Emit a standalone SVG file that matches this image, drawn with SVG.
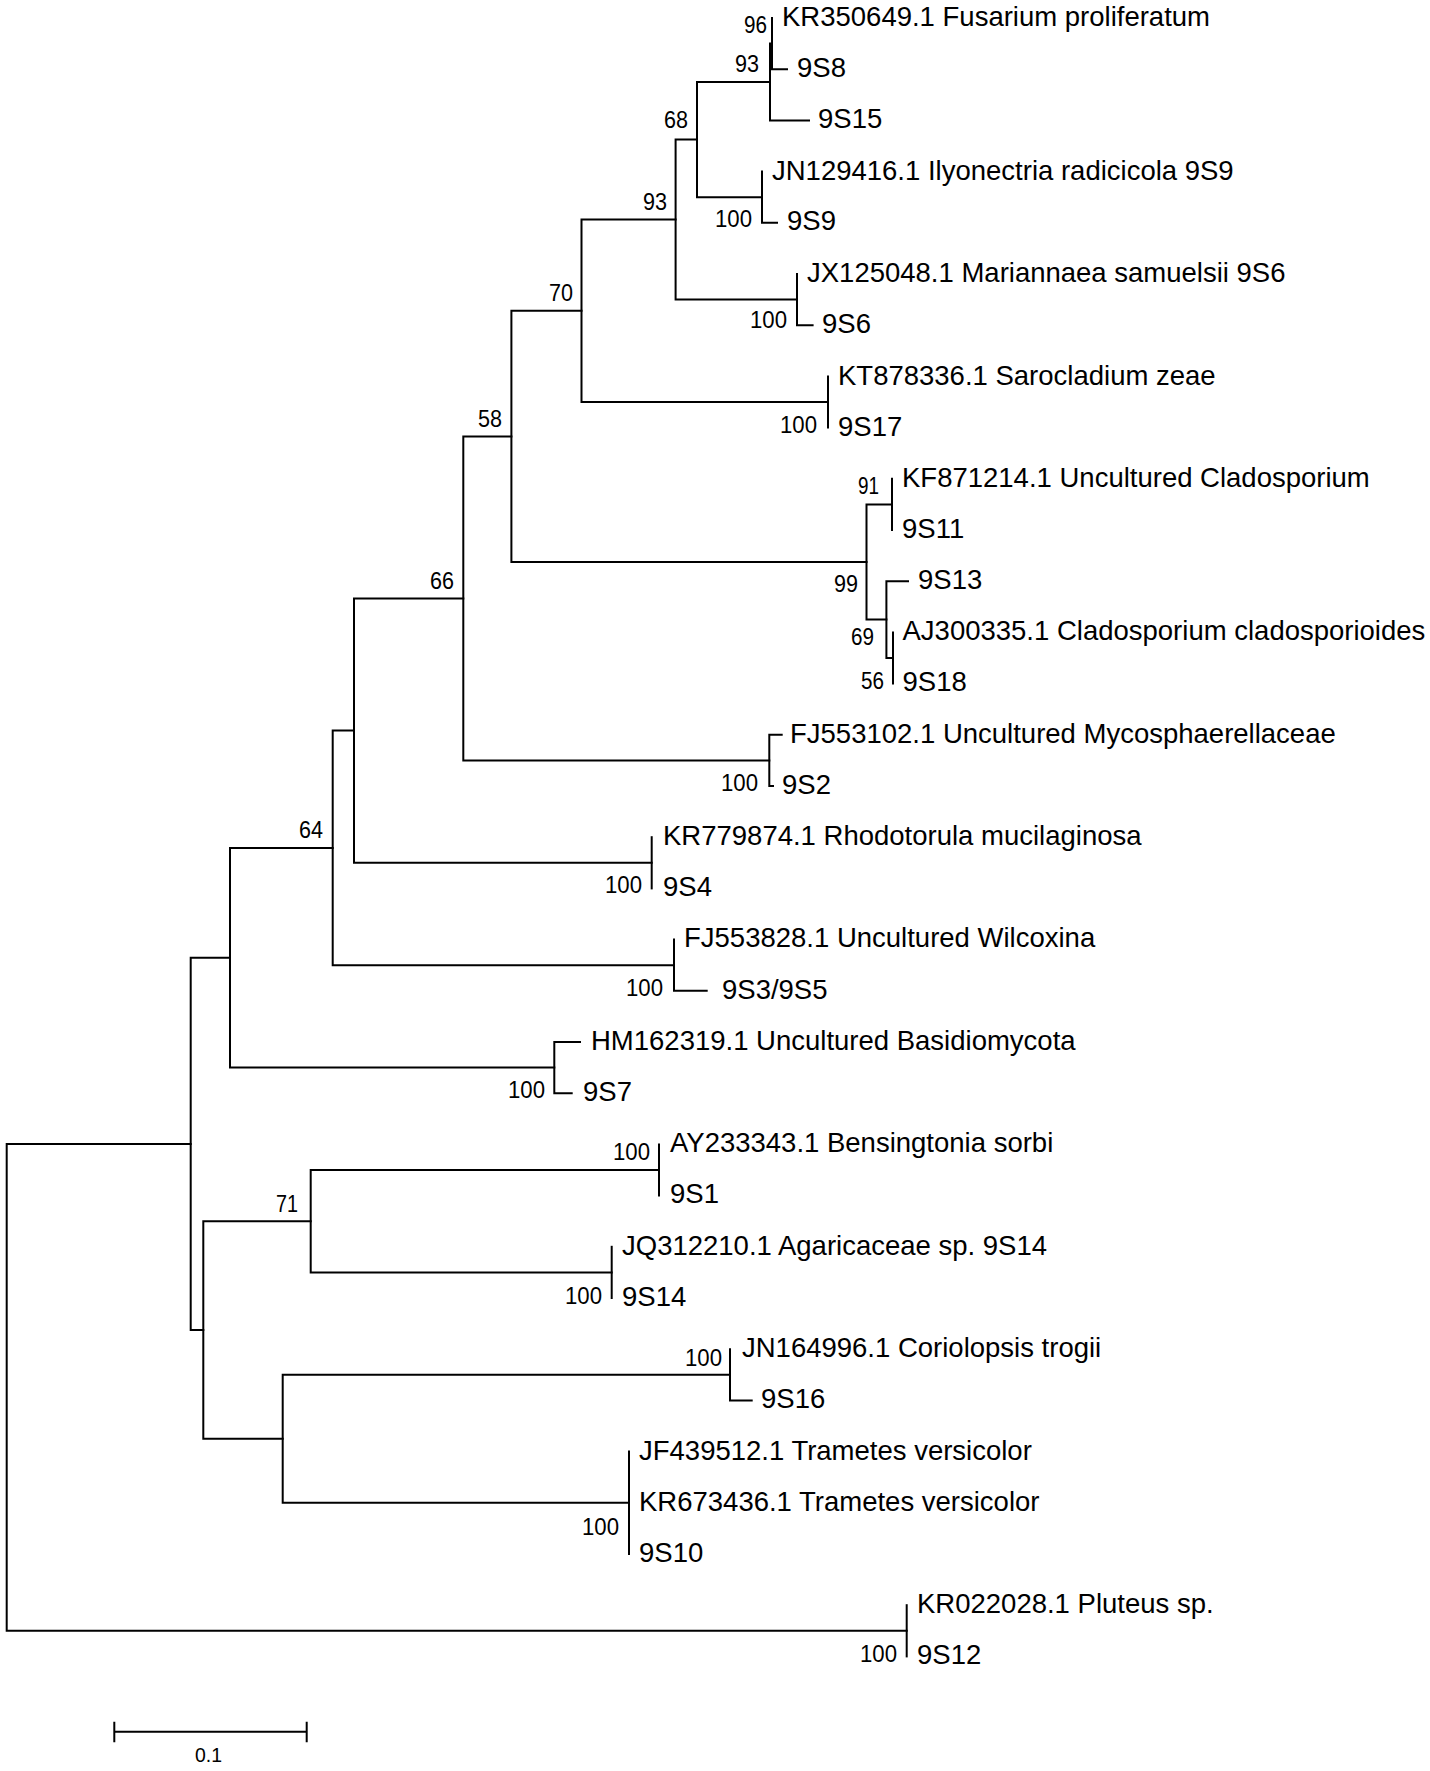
<svg xmlns="http://www.w3.org/2000/svg" width="1430" height="1771" viewBox="0 0 1430 1771">
<style>
.br{fill:none;stroke:#000;stroke-width:2;stroke-linecap:square}
.lf{font-family:"Liberation Sans",Arial,sans-serif;font-size:27.5px;fill:#000}
.bs{font-family:"Liberation Sans",Arial,sans-serif;font-size:23.5px;fill:#000;text-anchor:end}
.sc{font-family:"Liberation Sans",Arial,sans-serif;font-size:21px;fill:#000}
</style>
<rect width="1430" height="1771" fill="#fff"/>
<g id="connectors" class="br">
<path d="M6.7,1143.9 V1630.8 M6.7,1143.9 H190.7 M6.7,1630.8 H906.7"/>
<path d="M906.7,1605.2 V1656.4"/>
<path d="M190.7,957.8 V1330 M190.7,957.8 H230 M190.7,1330 H203.3"/>
<path d="M230,847.9 V1067.6 M230,847.9 H332.7 M230,1067.6 H554.3"/>
<path d="M554.3,1042 V1093.2 M554.3,1042 H580 M554.3,1093.2 H571.7"/>
<path d="M332.7,730.6 V965.2 M332.7,730.6 H354 M332.7,965.2 H674"/>
<path d="M674,939.6 V990.8 M674,990.8 H706.7"/>
<path d="M354,598.4 V862.8 M354,598.4 H463.3 M354,862.8 H651.7"/>
<path d="M651.7,837.2 V888.4"/>
<path d="M463.3,436.4 V760.4 M463.3,436.4 H511.4 M463.3,760.4 H769.3"/>
<path d="M769.3,734.8 V786 M769.3,734.8 H781.7 M769.3,786 H773"/>
<path d="M511.4,310.8 V562 M511.4,310.8 H581.5 M511.4,562 H866.5"/>
<path d="M866.5,504.4 V619.6 M866.5,504.4 H892 M866.5,619.6 H886.4"/>
<path d="M892,478.8 V530"/>
<path d="M886.4,581.2 V658 M886.4,581.2 H908 M886.4,658 H893"/>
<path d="M893,632.4 V683.6"/>
<path d="M581.5,219.6 V402 M581.5,219.6 H675.6 M581.5,402 H828"/>
<path d="M828,376.4 V427.6"/>
<path d="M675.6,139.6 V299.6 M675.6,139.6 H697 M675.6,299.6 H797"/>
<path d="M797,274 V325.2 M797,325.2 H812.6"/>
<path d="M697,82 V197.2 M697,82 H770 M697,197.2 H762"/>
<path d="M762,171.6 V222.8 M762,222.8 H777"/>
<path d="M770,43.6 V120.4 M770,43.6 H772 M770,120.4 H809"/>
<path d="M772,18 V69.2 M772,69.2 H787"/>
<path d="M203.3,1221.2 V1438.8 M203.3,1221.2 H310.7 M203.3,1438.8 H282.7"/>
<path d="M310.7,1170 V1272.4 M310.7,1170 H659 M310.7,1272.4 H611.7"/>
<path d="M659,1144.4 V1195.6"/>
<path d="M611.7,1246.8 V1298"/>
<path d="M282.7,1374.8 V1502.8 M282.7,1374.8 H730 M282.7,1502.8 H629"/>
<path d="M730,1349.2 V1400.4 M730,1400.4 H751.7"/>
<path d="M629,1451.6 V1554"/>
</g>
<g id="leaves" class="lf">
<g id="leaf-KR350649"><text x="782" y="26">KR350649.1 Fusarium proliferatum</text></g>
<g id="leaf-9S8"><text x="797" y="77">9S8</text></g>
<g id="leaf-9S15"><text x="818" y="128">9S15</text></g>
<g id="leaf-JN129416"><text x="772" y="180">JN129416.1 Ilyonectria radicicola 9S9</text></g>
<g id="leaf-9S9"><text x="787" y="230">9S9</text></g>
<g id="leaf-JX125048"><text x="807" y="282">JX125048.1 Mariannaea samuelsii 9S6</text></g>
<g id="leaf-9S6"><text x="822" y="333">9S6</text></g>
<g id="leaf-KT878336"><text x="838" y="385">KT878336.1 Sarocladium zeae</text></g>
<g id="leaf-9S17"><text x="838" y="436">9S17</text></g>
<g id="leaf-KF871214"><text x="902" y="487">KF871214.1 Uncultured Cladosporium</text></g>
<g id="leaf-9S11"><text x="902" y="538">9S11</text></g>
<g id="leaf-9S13"><text x="918" y="589">9S13</text></g>
<g id="leaf-AJ300335"><text x="902.5" y="640">AJ300335.1 Cladosporium cladosporioides</text></g>
<g id="leaf-9S18"><text x="902.5" y="691">9S18</text></g>
<g id="leaf-FJ553102"><text x="790" y="743">FJ553102.1 Uncultured Mycosphaerellaceae</text></g>
<g id="leaf-9S2"><text x="782" y="794">9S2</text></g>
<g id="leaf-KR779874"><text x="663" y="845">KR779874.1 Rhodotorula mucilaginosa</text></g>
<g id="leaf-9S4"><text x="663" y="896">9S4</text></g>
<g id="leaf-FJ553828"><text x="684" y="947">FJ553828.1 Uncultured Wilcoxina</text></g>
<g id="leaf-9S3-9S5"><text x="722" y="999">9S3/9S5</text></g>
<g id="leaf-HM162319"><text x="591" y="1050">HM162319.1 Uncultured Basidiomycota</text></g>
<g id="leaf-9S7"><text x="583" y="1101">9S7</text></g>
<g id="leaf-AY233343"><text x="670" y="1152">AY233343.1 Bensingtonia sorbi</text></g>
<g id="leaf-9S1"><text x="670" y="1203">9S1</text></g>
<g id="leaf-JQ312210"><text x="622" y="1255">JQ312210.1 Agaricaceae sp. 9S14</text></g>
<g id="leaf-9S14"><text x="622" y="1306">9S14</text></g>
<g id="leaf-JN164996"><text x="742" y="1357">JN164996.1 Coriolopsis trogii</text></g>
<g id="leaf-9S16"><text x="761" y="1408">9S16</text></g>
<g id="leaf-JF439512"><text x="639" y="1460">JF439512.1 Trametes versicolor</text></g>
<g id="leaf-KR673436"><text x="639" y="1511">KR673436.1 Trametes versicolor</text></g>
<g id="leaf-9S10"><text x="639" y="1562">9S10</text></g>
<g id="leaf-KR022028"><text x="917" y="1613">KR022028.1 Pluteus sp.</text></g>
<g id="leaf-9S12"><text x="917" y="1664">9S12</text></g>
</g>
<g id="bootstrap" class="bs">
<g id="node-96"><text x="767" y="33" textLength="23" lengthAdjust="spacingAndGlyphs">96</text></g>
<g id="node-93a"><text x="759" y="72" textLength="24" lengthAdjust="spacingAndGlyphs">93</text></g>
<g id="node-68"><text x="688" y="128" textLength="24" lengthAdjust="spacingAndGlyphs">68</text></g>
<g id="node-100-JN"><text x="752" y="227" textLength="37" lengthAdjust="spacingAndGlyphs">100</text></g>
<g id="node-93b"><text x="667" y="210" textLength="24" lengthAdjust="spacingAndGlyphs">93</text></g>
<g id="node-100-JX"><text x="787" y="328" textLength="37" lengthAdjust="spacingAndGlyphs">100</text></g>
<g id="node-70"><text x="573" y="301" textLength="24" lengthAdjust="spacingAndGlyphs">70</text></g>
<g id="node-100-KT"><text x="817" y="433" textLength="37" lengthAdjust="spacingAndGlyphs">100</text></g>
<g id="node-58"><text x="502" y="427" textLength="24" lengthAdjust="spacingAndGlyphs">58</text></g>
<g id="node-91"><text x="879" y="494" textLength="21" lengthAdjust="spacingAndGlyphs">91</text></g>
<g id="node-99"><text x="858" y="592" textLength="24" lengthAdjust="spacingAndGlyphs">99</text></g>
<g id="node-69"><text x="874" y="645" textLength="23" lengthAdjust="spacingAndGlyphs">69</text></g>
<g id="node-56"><text x="884" y="689" textLength="23" lengthAdjust="spacingAndGlyphs">56</text></g>
<g id="node-66"><text x="454" y="589" textLength="24" lengthAdjust="spacingAndGlyphs">66</text></g>
<g id="node-100-FJ553102"><text x="758" y="791" textLength="37" lengthAdjust="spacingAndGlyphs">100</text></g>
<g id="node-100-KR779874"><text x="642" y="893" textLength="37" lengthAdjust="spacingAndGlyphs">100</text></g>
<g id="node-64"><text x="323" y="838" textLength="24" lengthAdjust="spacingAndGlyphs">64</text></g>
<g id="node-100-FJ553828"><text x="663" y="996" textLength="37" lengthAdjust="spacingAndGlyphs">100</text></g>
<g id="node-100-HM"><text x="545" y="1098" textLength="37" lengthAdjust="spacingAndGlyphs">100</text></g>
<g id="node-100-AY"><text x="650" y="1160" textLength="37" lengthAdjust="spacingAndGlyphs">100</text></g>
<g id="node-71"><text x="298" y="1212" textLength="22" lengthAdjust="spacingAndGlyphs">71</text></g>
<g id="node-100-JQ"><text x="602" y="1304" textLength="37" lengthAdjust="spacingAndGlyphs">100</text></g>
<g id="node-100-JN164996"><text x="722" y="1366" textLength="37" lengthAdjust="spacingAndGlyphs">100</text></g>
<g id="node-100-Trametes"><text x="619" y="1535" textLength="37" lengthAdjust="spacingAndGlyphs">100</text></g>
<g id="node-100-Pluteus"><text x="897" y="1662" textLength="37" lengthAdjust="spacingAndGlyphs">100</text></g>
</g>
<g id="scale-bar">
<path class="br" d="M114.3,1731.7 H306.7 M114.3,1722.7 V1741.3 M306.7,1722.7 V1741.3"/>
<text class="sc" x="195" y="1762" textLength="27" lengthAdjust="spacingAndGlyphs">0.1</text>
</g>
</svg>
